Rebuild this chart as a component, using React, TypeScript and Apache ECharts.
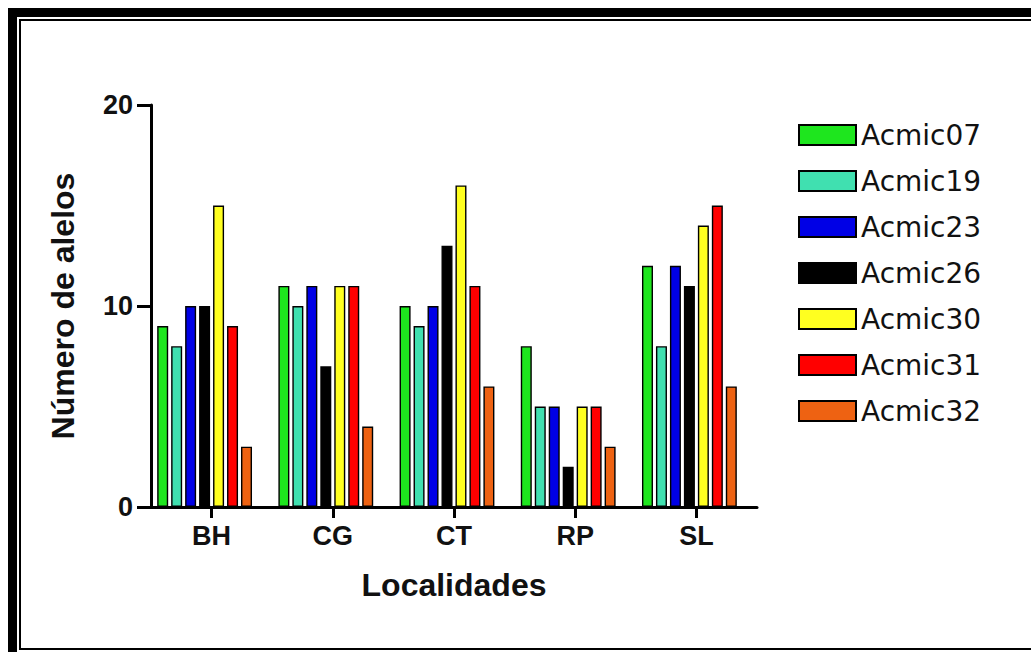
import React, { useEffect, useRef } from "react";
import * as echarts from "echarts";

const categories = ["BH", "CG", "CT", "RP", "SL"];
const seriesNames = ["Acmic07", "Acmic19", "Acmic23", "Acmic26", "Acmic30", "Acmic31", "Acmic32"];
const acmic07 = [9, 11, 10, 8, 12];
const acmic19 = [8, 10, 9, 5, 8];
const acmic23 = [10, 11, 10, 5, 12];
const acmic26 = [10, 7, 13, 2, 11];
const acmic30 = [15, 11, 16, 5, 14];
const acmic31 = [9, 11, 11, 5, 15];
const acmic32 = [3, 4, 6, 3, 6];
const yTicks = [0, 10, 20];

const seriesValues = [acmic07, acmic19, acmic23, acmic26, acmic30, acmic31, acmic32];
const colors = ["#1ee61e", "#40e0b0", "#0000e6", "#000000", "#ffff20", "#ff0000", "#ee6212"];

const FONT = "'Liberation Sans', Arial, sans-serif";

export default function App() {
  const ref = useRef<HTMLDivElement>(null);
  useEffect(() => {
    if (!ref.current) return;
    const chart = echarts.init(ref.current, undefined, { renderer: "svg" });
    const option: any = {
      animation: false,
      backgroundColor: "#ffffff",
      grid: [
        { left: 144, top: 105, width: 606, height: 402 },
        { left: 151, top: 105, width: 606, height: 402 },
      ],
      legend: {
        orient: "vertical",
        left: 793,
        top: 116,
        icon: "rect",
        itemWidth: 57,
        itemHeight: 20,
        itemGap: 18,
        selectedMode: false,
        data: seriesNames,
        textStyle: { fontFamily: "'DejaVu Sans', sans-serif", fontSize: 28, color: "#111" },
      },
      xAxis: [
        { gridIndex: 0, type: "category", data: categories, show: false },
        {
          gridIndex: 1,
          type: "category",
          data: categories,
          axisLine: { show: true, lineStyle: { color: "#000", width: 3 } },
          axisTick: { show: true, alignWithLabel: true, length: 11, lineStyle: { color: "#000", width: 3 } },
          axisLabel: { fontFamily: FONT, fontWeight: "bold", fontSize: 27, color: "#111", margin: 15 },
          name: "Localidades",
          nameLocation: "middle",
          nameGap: 62,
          nameTextStyle: { fontFamily: FONT, fontWeight: "bold", fontSize: 32, color: "#111" },
        },
      ],
      yAxis: [
        { gridIndex: 0, type: "value", min: 0, max: 20, show: false, splitLine: { show: false } },
        {
          gridIndex: 1,
          type: "value",
          min: yTicks[0],
          max: yTicks[yTicks.length - 1],
          interval: 10,
          splitLine: { show: false },
          axisLine: { show: true, lineStyle: { color: "#000", width: 3 } },
          axisTick: { show: true, length: 14, lineStyle: { color: "#000", width: 3 } },
          axisLabel: { fontFamily: FONT, fontWeight: "bold", fontSize: 27, color: "#111", margin: 18 },
          name: "Número de alelos",
          nameLocation: "middle",
          nameGap: 72,
          nameRotate: 90,
          nameTextStyle: { fontFamily: FONT, fontWeight: "bold", fontSize: 32, color: "#111" },
        },
      ],
      series: seriesNames.map((name, i) => ({
        name,
        type: "bar",
        xAxisIndex: 0,
        yAxisIndex: 0,
        data: seriesValues[i],
        barWidth: 11,
        barGap: "27%",
        itemStyle: { color: colors[i], borderColor: "#000", borderWidth: 1.4 },
      })),
      graphic: [
        {
          type: "rect",
          shape: { x: 12.5, y: 12.5, width: 1040, height: 660 },
          style: { fill: "none", stroke: "#000", lineWidth: 9 },
          silent: true,
        },
        {
          type: "rect",
          shape: { x: 20, y: 20, width: 1030, height: 629 },
          style: { fill: "none", stroke: "#000", lineWidth: 2 },
          silent: true,
        },
      ],
    };
    chart.setOption(option);
    return () => chart.dispose();
  }, []);
  return (
    <div
      ref={ref}
      style={{ position: "fixed", left: 0, top: 0, width: 1031, height: 652, background: "#fff" }}
    />
  );
}
